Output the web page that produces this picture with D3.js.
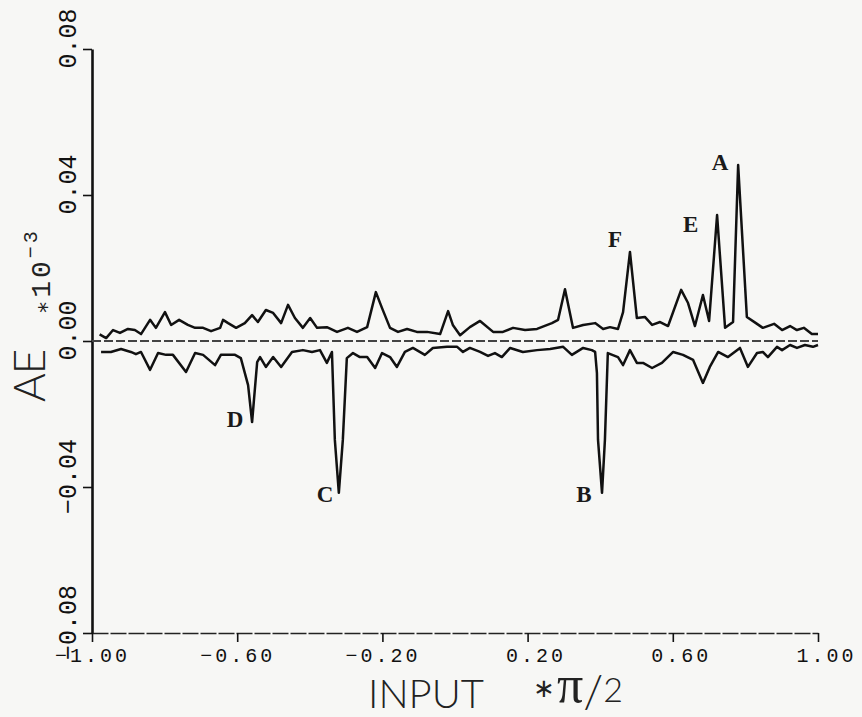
<!DOCTYPE html>
<html>
<head>
<meta charset="utf-8">
<script src="https://cdn.jsdelivr.net/npm/d3@7"></script>
<style>
  body { margin: 0; background: #f7f7f5; }
  svg { display: block; }
</style>
</head>
<body>
<svg id="chart"></svg>
<script>
//**** DATA ****//
const xTicks = [-1, -0.6, -0.2, 0.2, 0.6, 1];
const yTicks = [-0.08, -0.04, 0, 0.04, 0.08];

// upper trace (positive error)
const upperInput = [-0.979,-0.961,-0.942,-0.923,-0.901,-0.882,-0.865,-0.840,-0.824,-0.799,
  -0.782,-0.760,-0.736,-0.716,-0.694,-0.672,-0.647,-0.639,-0.625,-0.603,
  -0.579,-0.559,-0.543,-0.521,-0.501,-0.479,-0.460,-0.441,-0.419,-0.399,
  -0.380,-0.353,-0.325,-0.295,-0.270,-0.242,-0.218,-0.201,-0.179,-0.157,
  -0.132,-0.105,-0.077,-0.041,-0.019,-0.006,0.014,0.041,0.069,0.105,
  0.132,0.160,0.193,0.226,0.267,0.284,0.303,0.325,0.353,0.386,
  0.408,0.427,0.449,0.463,0.482,0.501,0.523,0.543,0.565,0.587,
  0.623,0.642,0.661,0.683,0.700,0.722,0.744,0.766,0.780,0.804,
  0.829,0.848,0.879,0.901,0.923,0.942,0.961,0.983,1.000];
const upperError = [0.0018,0.0008,0.0030,0.0022,0.0033,0.0030,0.0019,0.0058,0.0036,0.0079,
  0.0044,0.0058,0.0044,0.0036,0.0036,0.0027,0.0036,0.0058,0.0049,0.0036,
  0.0049,0.0071,0.0052,0.0085,0.0077,0.0049,0.0099,0.0063,0.0036,0.0063,
  0.0036,0.0038,0.0025,0.0036,0.0025,0.0038,0.0134,0.0090,0.0036,0.0025,
  0.0033,0.0025,0.0025,0.0019,0.0082,0.0044,0.0016,0.0038,0.0055,0.0025,
  0.0025,0.0036,0.0030,0.0033,0.0049,0.0058,0.0142,0.0036,0.0044,0.0049,
  0.0033,0.0038,0.0033,0.0079,0.0244,0.0063,0.0066,0.0044,0.0052,0.0041,
  0.0140,0.0104,0.0041,0.0126,0.0055,0.0345,0.0036,0.0052,0.0482,0.0066,
  0.0049,0.0036,0.0047,0.0030,0.0041,0.0030,0.0036,0.0019,0.0019];

// lower trace (negative error)
const lowerInput = [-0.975,-0.948,-0.920,-0.893,-0.879,-0.865,-0.840,-0.818,-0.796,-0.777,
  -0.741,-0.716,-0.694,-0.661,-0.645,-0.606,-0.590,-0.570,-0.559,-0.545,
  -0.537,-0.521,-0.501,-0.479,-0.449,-0.419,-0.394,-0.372,-0.353,-0.339,
  -0.331,-0.320,-0.309,-0.298,-0.281,-0.262,-0.242,-0.220,-0.201,-0.179,
  -0.160,-0.138,-0.116,-0.083,-0.061,-0.022,0.006,0.022,0.041,0.069,
  0.091,0.110,0.129,0.152,0.187,0.226,0.262,0.298,0.322,0.353,
  0.377,0.386,0.391,0.394,0.405,0.413,0.421,0.449,0.463,0.482,
  0.501,0.518,0.543,0.570,0.601,0.628,0.656,0.683,0.702,0.725,
  0.752,0.785,0.807,0.832,0.848,0.862,0.887,0.901,0.923,0.942,
  0.964,0.986,1.000];
const lowerError = [-0.0030,-0.0030,-0.0022,-0.0030,-0.0036,-0.0030,-0.0079,-0.0033,-0.0038,-0.0038,
  -0.0085,-0.0033,-0.0038,-0.0066,-0.0038,-0.0038,-0.0047,-0.0121,-0.0222,-0.0058,
  -0.0044,-0.0071,-0.0044,-0.0071,-0.0030,-0.0025,-0.0030,-0.0025,-0.0060,-0.0030,
  -0.0271,-0.0416,-0.0271,-0.0047,-0.0033,-0.0044,-0.0044,-0.0074,-0.0033,-0.0044,
  -0.0071,-0.0030,-0.0019,-0.0038,-0.0019,-0.0016,-0.0016,-0.0030,-0.0019,-0.0030,
  -0.0041,-0.0033,-0.0044,-0.0019,-0.0030,-0.0025,-0.0022,-0.0016,-0.0038,-0.0019,
  -0.0025,-0.0030,-0.0088,-0.0271,-0.0416,-0.0271,-0.0033,-0.0044,-0.0066,-0.0025,
  -0.0060,-0.0060,-0.0074,-0.0060,-0.0030,-0.0038,-0.0052,-0.0115,-0.0071,-0.0030,
  -0.0044,-0.0019,-0.0071,-0.0033,-0.0030,-0.0044,-0.0016,-0.0025,-0.0011,-0.0019,
  -0.0011,-0.0016,-0.0011];

// peak labels, in data units
const peakLabels = ['A', 'E', 'F', 'D', 'C', 'B'];
const peakInput = [0.730, 0.649, 0.441, -0.606, -0.358, 0.355];
const peakError = [0.0468, 0.0299, 0.0258, -0.0236, -0.0441, -0.0441];

//**** CHART ****//
const width = 862,
      height = 717;

const svg = d3.select('#chart')
    .attr('width', width)
    .attr('height', height);

const x = d3.scaleLinear().domain([-1, 1]).range([92, 818]);
const y = d3.scaleLinear().domain([-0.08, 0.08]).range([633, 49]);

const mono = '"Liberation Mono", "DejaVu Sans Mono", monospace';

// y axis
const yAxis = svg.append('g')
    .attr('transform', `translate(${x(-1)},0)`)
    .call(d3.axisLeft(y).tickValues(yTicks).tickSize(9).tickSizeOuter(0));
yAxis.select('.domain').attr('stroke', '#111').attr('stroke-width', 2.6);
yAxis.selectAll('.tick line').attr('stroke', '#111').attr('stroke-width', 1.6);
yAxis.selectAll('.tick text')
    .text(d => d3.format('.2f')(d))
    .attr('transform', 'rotate(-90)')
    .attr('x', 11)
    .attr('y', -16)
    .attr('dy', 0)
    .attr('text-anchor', 'middle')
    .style('font-family', mono)
    .style('font-size', '25px')
    .attr('fill', '#111');

// x axis
const xAxis = svg.append('g')
    .attr('transform', `translate(0,${y(-0.08)})`)
    .call(d3.axisBottom(x).tickValues(xTicks).tickSize(9).tickSizeOuter(0));
xAxis.select('.domain').attr('stroke', '#222').attr('stroke-width', 1.6)
    .attr('stroke-dasharray', '16,2');
xAxis.selectAll('.tick line').attr('stroke', '#111').attr('stroke-width', 1.6);
xAxis.selectAll('.tick text')
    .text(d => d3.format('.2f')(d).replace('-', '\u2212'))
    .attr('y', 29)
    .attr('dy', 0)
    .attr('dx', d => d > 0 ? 8 : 0)
    .style('font-family', mono)
    .style('font-size', '20px')
    .style('letter-spacing', '3px')
    .attr('fill', '#111');

// dashed zero line
svg.append('line')
    .attr('x1', x(-1)).attr('x2', x(1))
    .attr('y1', y(0)).attr('y2', y(0))
    .attr('stroke', '#444')
    .attr('stroke-width', 1.8)
    .attr('stroke-dasharray', '9,3');

// traces
const line = d3.line()
    .x(d => x(d[0]))
    .y(d => y(d[1]));

const traces = [d3.zip(upperInput, upperError), d3.zip(lowerInput, lowerError)];

svg.selectAll('.trace')
    .data(traces)
    .enter()
    .append('path')
    .attr('class', 'trace')
    .attr('d', line)
    .attr('fill', 'none')
    .attr('stroke', '#111')
    .attr('stroke-width', 2.5)
    .attr('stroke-linejoin', 'round');

// peak letters
svg.selectAll('.peak')
    .data(d3.zip(peakLabels, peakInput, peakError))
    .enter()
    .append('text')
    .attr('class', 'peak')
    .attr('x', d => x(d[1]))
    .attr('y', d => y(d[2]))
    .attr('text-anchor', 'middle')
    .style('font-family', '"Liberation Serif", "DejaVu Serif", serif')
    .style('font-size', '23px')
    .style('font-weight', 'bold')
    .attr('fill', '#1a1a1a')
    .text(d => d[0]);

//**** AXIS TITLES ****//
const plotter = 'Lato, "DejaVu Sans", sans-serif';

svg.append('text')
    .attr('transform', 'translate(45,402) rotate(-90)')
    .style('font-family', plotter)
    .style('font-size', '44px')
    .style('font-weight', 300)
    .style('letter-spacing', '-1px')
    .attr('fill', '#222')
    .text('AE');

const yUnit = svg.append('text')
    .attr('transform', 'translate(50,314) rotate(-90)')
    .style('font-family', mono)
    .style('font-size', '28px')
    .style('letter-spacing', '3px')
    .attr('fill', '#222');
yUnit.append('tspan').style('font-size', '22px').text('\u2217');
yUnit.append('tspan').text('10');
yUnit.append('tspan').attr('dy', -13).style('font-size', '20px').text('\u22123');

svg.append('text')
    .attr('x', 368)
    .attr('y', 708)
    .style('font-family', plotter)
    .style('font-size', '40px')
    .style('font-weight', 300)
    .attr('fill', '#222')
    .text('INPUT');

// "* pi/2" unit, asterisk kept as its own small text
svg.append('text')
    .attr('x', 533)
    .attr('y', 697)
    .style('font-family', '"DejaVu Sans", sans-serif')
    .style('font-size', '26px')
    .attr('fill', '#222')
    .text('\u2217');

const xUnit = svg.append('text')
    .attr('x', 557)
    .attr('y', 702)
    .style('font-family', plotter)
    .style('font-weight', 300)
    .attr('fill', '#222');
xUnit.append('tspan').style('font-family', '"Liberation Serif", serif')
    .style('font-size', '52px').text('\u03c0');
xUnit.append('tspan').attr('dy', 6).style('font-size', '46px').text('/');
xUnit.append('tspan').attr('dy', -6).style('font-size', '34px').text('2');
</script>
</body>
</html>
